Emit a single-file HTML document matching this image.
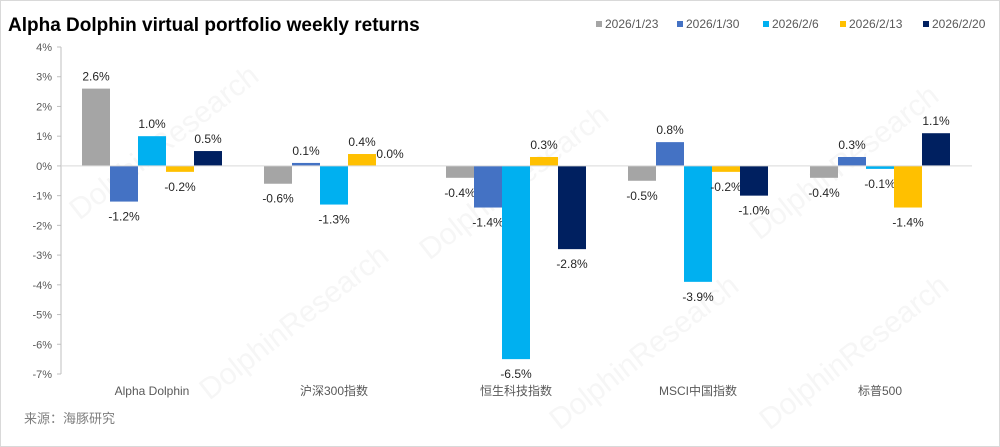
<!DOCTYPE html>
<html><head><meta charset="utf-8"><style>
body{margin:0;background:#fff;}
#wrap{position:relative;width:1000px;height:447px;overflow:hidden;background:#fff;font-family:"Liberation Sans","Noto Sans CJK SC",sans-serif;}
</style></head><body>
<div id="wrap">
<svg id="chart" width="1000" height="447"></svg>
</div>
<script>
const categories=["Alpha Dolphin","沪深300指数","恒生科技指数","MSCI中国指数","标普500"];
const seriesNames=["2026/1/23","2026/1/30","2026/2/6","2026/2/13","2026/2/20"];
const s1=[2.6,-0.6,-0.4,-0.5,-0.4];
const s2=[-1.2,0.1,-1.4,0.8,0.3];
const s3=[1.0,-1.3,-6.5,-3.9,-0.1];
const s4=[-0.2,0.4,0.3,-0.2,-1.4];
const s5=[0.5,0.0,-2.8,-1.0,1.1];
const yTicks=[4,3,2,1,0,-1,-2,-3,-4,-5,-6,-7];
const series=[s1,s2,s3,s4,s5];
const colors=["#a5a5a5","#4472c4","#00b0f0","#ffc000","#002060"];
const NS="http://www.w3.org/2000/svg";
const svg=document.getElementById('chart');
const x0=61,groupW=182,barW=28,yTop=47,yBot=374,yMax=4,yMin=-7;
function y(v){return yTop+(yMax-v)*(yBot-yTop)/(yMax-yMin);}
function gx(i){return x0+i*groupW;}
function mk(t,a,txt){const e=document.createElementNS(NS,t);for(const k in a)e.setAttribute(k,a[k]);if(txt!==undefined)e.textContent=txt;svg.appendChild(e);return e;}
let e=mk('rect',{x:0.5,y:0.5,width:999,height:446,fill:'none',stroke:'#d9d9d9'});


[[170,150],[520,190],[850,170],[300,330],[650,360],[860,360]].forEach(p=>{
 const w=mk('text',{x:p[0],y:p[1],'font-size':30,fill:'#f6f6f6',transform:`rotate(-38 ${p[0]} ${p[1]})`,'text-anchor':'middle'},'DolphinResearch');
 
 
});
e=mk('text',{x:8,y:31,'font-size':19,'font-weight':'bold',fill:'#000'},'Alpha Dolphin virtual portfolio weekly returns');


e=mk('line',{x1:x0,y1:y(yMax),x2:x0,y2:y(yMin),stroke:'#bfbfbf'});


yTicks.forEach(t=>{
 const l=mk('line',{x1:x0-4,y1:y(t),x2:x0,y2:y(t),stroke:'#bfbfbf'});
 
 
 const tx=mk('text',{x:52,y:y(t)+4,'font-size':11,fill:'#595959','text-anchor':'end'},t+'%');
 
 
});
series.forEach((s,si)=>{s.forEach((v,ci)=>{
 const bx=gx(ci)+21+si*barW;
 const top=Math.min(y(v),y(0)),h=Math.max(Math.abs(y(v)-y(0)),0.01);
 const r=mk('rect',{x:bx,y:top,width:barW,height:h,fill:colors[si]});
 
 
 const ly=v>=0?y(v)-8:y(v)+19;
 const t=mk('text',{x:bx+barW/2,y:ly,'font-size':12,fill:'#262626','text-anchor':'middle'},v.toFixed(1)+'%');
 
 
});});
e=mk('line',{x1:x0,y1:y(0),x2:972,y2:y(0),stroke:'#d9d9d9'});


categories.forEach((c,i)=>{
 const t=mk('text',{x:gx(i)+groupW/2,y:395,'font-size':12,fill:'#595959','text-anchor':'middle'},c);
 
 
});
const lx=[596,677,763,840,923];
seriesNames.forEach((n,i)=>{
 const g=document.createElementNS(NS,'g');svg.appendChild(g);
 
 
 const r=document.createElementNS(NS,'rect');
 r.setAttribute('x',lx[i]);r.setAttribute('y',21);r.setAttribute('width',6);r.setAttribute('height',6);r.setAttribute('fill',colors[i]);g.appendChild(r);
 const t=document.createElementNS(NS,'text');
 t.setAttribute('x',lx[i]+9);t.setAttribute('y',28);t.setAttribute('font-size',12);t.setAttribute('fill','#595959');t.textContent=n;g.appendChild(t);
});
e=mk('text',{x:24,y:423,'font-size':13,fill:'#7f7f7f'},'来源：海豚研究');


</script>
</body></html>
